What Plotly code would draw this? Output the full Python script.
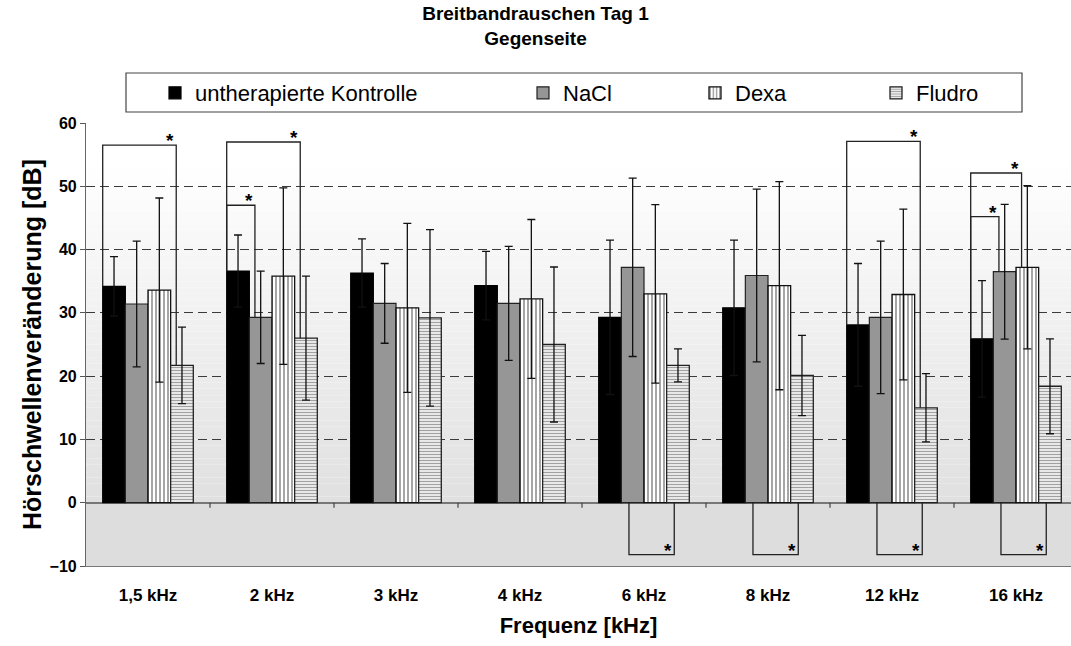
import plotly.graph_objects as go

# ---------------- data ----------------
categories = ["1,5 kHz", "2 kHz", "3 kHz", "4 kHz", "6 kHz", "8 kHz", "12 kHz", "16 kHz"]
series_names = ["untherapierte Kontrolle", "NaCl", "Dexa", "Fludro"]

kontrolle = [34.2, 36.6, 36.3, 34.3, 29.3, 30.8, 28.1, 25.9]
kontrolle_sd = [4.7, 5.7, 5.4, 5.4, 12.2, 10.7, 9.7, 9.2]
nacl = [31.4, 29.3, 31.5, 31.5, 37.2, 35.9, 29.3, 36.5]
nacl_sd = [9.95, 7.3, 6.3, 9.0, 14.1, 13.65, 12.05, 10.65]
dexa = [33.6, 35.8, 30.8, 32.2, 33.0, 34.3, 32.9, 37.2]
dexa_sd = [14.55, 13.95, 13.35, 12.55, 14.1, 16.45, 13.5, 12.9]
fludro = [21.7, 26.0, 29.2, 25.0, 21.7, 20.1, 15.0, 18.4]
fludro_sd = [6.05, 9.8, 13.95, 12.25, 2.6, 6.35, 5.4, 7.5]

y_ticks = [-10, 0, 10, 20, 30, 40, 50, 60]

# significance: (category index, series from, series to, bracket level)
sig_top = [(0, 0, 3, 56.5), (1, 0, 3, 57.0), (1, 0, 1, 47.0),
           (6, 0, 3, 57.1), (7, 0, 1, 45.2), (7, 0, 2, 52.1)]
sig_bottom = [(4, 1, 3, -8.2), (5, 1, 3, -8.2), (6, 1, 3, -8.2), (7, 1, 3, -8.2)]

values = [kontrolle, nacl, dexa, fludro]
errors = [kontrolle_sd, nacl_sd, dexa_sd, fludro_sd]

# ---------------- style ----------------
FONT = "Liberation Sans, Arial, sans-serif"
W, H = 1071, 646
ML, MR, MT, MB = 86, 0, 123, 80
plot_w = W - ML - MR
plot_h = H - MT - MB
cat_px = 124.0
x_range = [-0.5, -0.5 + plot_w / cat_px]
bargap = 1 - 90.6 / cat_px
bw = (1 - bargap) / 4.0


def left_edge(j):
    return -2 * bw + j * bw


def center(j):
    return -2 * bw + (j + 0.5) * bw


bar_styles = [
    dict(color="#000000", line=dict(color="#000000", width=1.2)),
    dict(color="#969696", line=dict(color="#222222", width=1.2)),
    dict(color="#ffffff", line=dict(color="#111111", width=1.3),
         pattern=dict(shape="|", fgcolor="#000000", bgcolor="#ffffff", size=4, solidity=0.35)),
    dict(color="#ffffff", line=dict(color="#222222", width=1.3),
         pattern=dict(shape="-", fgcolor="#444444", bgcolor="#ffffff", size=3, solidity=0.5)),
]

fig = go.Figure()
legend_ids = ["legend", "legend2", "legend3", "legend4"]
for j, name in enumerate(series_names):
    fig.add_trace(go.Bar(
        x=categories, y=values[j], name=name,
        marker=bar_styles[j],
        error_y=dict(type="data", array=errors[j], visible=True,
                     color="#111111", thickness=1.3, width=4),
        legend=legend_ids[j],
    ))

shapes = []
# background gradient (above zero) and flat grey (below zero)
N = 60
for i in range(N):
    y0 = 60.0 * i / N
    y1 = 60.0 * (i + 1) / N
    t = (y0 + y1) / 2 / 60.0
    c = int(round(224 + (255 - 224) * min(1.0, t / 0.9)))
    shapes.append(dict(type="rect", xref="paper", yref="y", x0=0, x1=1, y0=y0, y1=y1,
                       fillcolor=f"rgb({c},{c},{c})", line=dict(width=0), layer="below"))
shapes.append(dict(type="rect", xref="paper", yref="y", x0=0, x1=1, y0=-10, y1=0,
                   fillcolor="rgb(221,221,221)", line=dict(width=0), layer="below"))

# tick marks on the zero line between categories
for k in range(len(categories) - 1):
    shapes.append(dict(type="line", xref="x", yref="y", x0=k + 0.5, x1=k + 0.5, y0=0, y1=-0.8,
                       line=dict(color="#444444", width=1.2), layer="above"))

annotations = []
line_sty = dict(color="#222222", width=1.3)
star_font = dict(family=FONT, size=19, color="#000000")
for (c, a, b, lvl) in sig_top:
    xl = c + left_edge(a)
    xr = c + left_edge(b) + 0.045
    shapes.append(dict(type="path", xref="x", yref="y",
                       path=f"M {xl},{values[a][c]} L {xl},{lvl} L {xr},{lvl} L {xr},{values[b][c]}",
                       line=line_sty, layer="above"))
    annotations.append(dict(x=xr - 0.05, y=lvl, xref="x", yref="y", text="<b>*</b>",
                            showarrow=False, yanchor="bottom", yshift=-8, font=star_font))
for (c, a, b, lvl) in sig_bottom:
    xl = c + center(a) - 0.03
    xr = c + center(b) - 0.03
    shapes.append(dict(type="path", xref="x", yref="y",
                       path=f"M {xl},0 L {xl},{lvl} L {xr},{lvl} L {xr},0",
                       line=line_sty, layer="above"))
    annotations.append(dict(x=xr - 0.05, y=lvl, xref="x", yref="y", text="<b>*</b>",
                            showarrow=False, yanchor="bottom", yshift=-8, font=star_font))


def px_x(p):
    return (p - ML) / plot_w


def px_y(p):
    return (H - MB - p) / plot_h


# legend frame
shapes.append(dict(type="rect", xref="paper", yref="paper",
                   x0=px_x(126), x1=px_x(1022), y0=px_y(112), y1=px_y(73),
                   line=dict(color="#444444", width=1.2), fillcolor="#ffffff", layer="below"))

legend_px = [175, 543, 715, 896]
legend_common = dict(orientation="h", yanchor="middle", xanchor="left",
                     bgcolor="rgba(0,0,0,0)", borderwidth=0,
                     font=dict(family=FONT, size=22, color="#000000"))
layout_legends = {}
for j, lid in enumerate(legend_ids):
    layout_legends[lid] = dict(legend_common, x=px_x(legend_px[j] - 20), y=px_y(93))

fig.update_layout(
    width=W, height=H,
    margin=dict(l=ML, r=MR, t=MT, b=MB, autoexpand=False),
    paper_bgcolor="#ffffff", plot_bgcolor="#ffffff",
    barmode="group", bargap=bargap, bargroupgap=0,
    showlegend=True,
    title=dict(text="Breitbandrauschen Tag 1<br>Gegenseite", x=0.5, xref="container",
               xanchor="center", y=1 - 20 / H, yanchor="top",
               font=dict(family=FONT, size=19, color="#000000", weight="bold")),
    xaxis=dict(type="category", range=x_range, showgrid=False, zeroline=False,
               showline=True, linecolor="#777777", linewidth=1.2, mirror=False,
               ticks="outside", ticklen=13, tickcolor="rgba(0,0,0,0)",
               tickfont=dict(family=FONT, size=17, color="#000000", weight="bold"),
               title=dict(text="Frequenz [kHz]", standoff=14,
                          font=dict(family=FONT, size=22, color="#000000", weight="bold"))),
    yaxis=dict(range=[-10, 60], tickvals=y_ticks, showgrid=True,
               gridcolor="#3a3a3a", gridwidth=1, griddash="9px,5px",
               zeroline=True, zerolinecolor="#777777", zerolinewidth=1.5,
               showline=True, linecolor="#666666", linewidth=1.2,
               ticks="outside", ticklen=5, tickcolor="#555555",
               tickfont=dict(family=FONT, size=16, color="#000000", weight="bold"),
               title=dict(text="Hörschwellenveränderung [dB]", standoff=0,
                          font=dict(family=FONT, size=25, color="#000000", weight="bold"))),
    shapes=shapes, annotations=annotations,
    **layout_legends,
)

fig.write_html("out.html")
